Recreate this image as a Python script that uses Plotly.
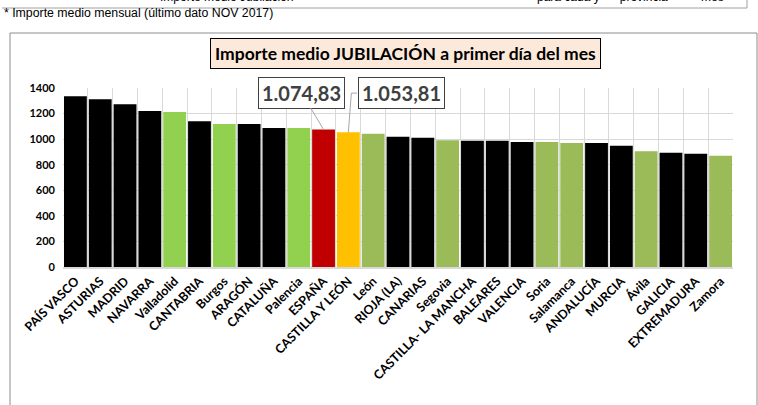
import plotly.graph_objects as go

categories = ["PAÍS VASCO", "ASTURIAS", "MADRID", "NAVARRA", "Valladolid", "CANTABRIA", "Burgos",
              "ARAGÓN", "CATALUÑA", "Palencia", "ESPAÑA", "CASTILLA Y LEÓN", "León", "RIOJA (LA)",
              "CANARIAS", "Segovia", "CASTILLA- LA MANCHA", "BALEARES", "VALENCIA", "Soria",
              "Salamanca", "ANDALUCÍA", "MURCIA", "Ávila", "GALICIA", "EXTREMADURA", "Zamora"]
values = [1335, 1312, 1273, 1221, 1213, 1140, 1119, 1119, 1088, 1088, 1074.83, 1053.81, 1042, 1018,
          1010, 992, 987, 987, 977, 977, 969, 969, 948, 906, 894, 886, 870]
groups = ["region", "region", "region", "region", "prov_a", "region", "prov_a", "region", "region",
          "prov_a", "spain", "cyl", "prov_b", "region", "region", "prov_b", "region", "region", "region",
          "prov_b", "prov_b", "region", "region", "prov_b", "region", "region", "prov_b"]
palette = {"region": "#000000", "prov_a": "#92D050", "prov_b": "#9BBB59",
           "spain": "#C00000", "cyl": "#FFC000"}
y_ticks = [0, 200, 400, 600, 800, 1000, 1200, 1400]
title_text = "Importe medio JUBILACIÓN a primer día del mes"
footnote = "* Importe medio mensual (último dato NOV 2017)"

W, H = 758, 405
L, R, T, B = 63, 25, 88, 138
pw, ph = W - L - R, H - T - B

def px(x):
    return (x - L) / pw

def py(y):
    return (H - B - y) / ph

fig = go.Figure(go.Bar(
    x=categories, y=values,
    marker=dict(color=[palette[g] for g in groups], line=dict(width=0)),
    hoverinfo="x+y",
))

font_main = "Lato, 'Open Sans', Arial, sans-serif"

fig.update_layout(
    width=W, height=H,
    margin=dict(l=L, r=R, t=T, b=B),
    paper_bgcolor="white", plot_bgcolor="white",
    bargap=0.08,
    showlegend=False,
    xaxis=dict(
        type="category", tickson="boundaries", showgrid=True, gridcolor="#D9D9D9", gridwidth=1,
        tickangle=-45, ticks="", showline=True, linecolor="#D9D9D9", linewidth=2,
        tickfont=dict(family=font_main, size=12.5, color="#000000", weight="bold"),
        range=[-0.5, len(categories) - 0.5], automargin=False,
    ),
    yaxis=dict(
        range=[0, 1400], tickvals=y_ticks, showgrid=True, gridcolor="#D9D9D9", gridwidth=1,
        zeroline=False, ticks="", ticklabelstandoff=7, automargin=False,
        tickfont=dict(family=font_main, size=11, color="#000000", weight="bold"),
    ),
)

shapes = []
# outer chart frame
shapes.append(dict(type="rect", xref="paper", yref="paper",
                   x0=px(10), x1=px(757), y0=py(420), y1=py(33),
                   line=dict(color="#8C8C8C", width=1), fillcolor="rgba(0,0,0,0)", layer="below"))
# clipped table box at the very top
shapes.append(dict(type="line", xref="paper", yref="paper",
                   x0=px(2), x1=px(747), y0=py(8), y1=py(8), line=dict(color="#A0A0A0", width=1)))
shapes.append(dict(type="line", xref="paper", yref="paper",
                   x0=px(747), x1=px(747), y0=py(-5), y1=py(8), line=dict(color="#A0A0A0", width=1)))
# leader line for Castilla y León label
cyl_i = categories.index("CASTILLA Y LEÓN")
shapes.append(dict(type="line", xref="x", yref="y",
                   x0=cyl_i, x1=cyl_i + 0.12, y0=values[cyl_i], y1=1360,
                   line=dict(color="#A6A6A6", width=1)))
shapes.append(dict(type="line", xref="x", yref="y",
                   x0=cyl_i + 0.12, x1=cyl_i + 0.35, y0=1360, y1=1360,
                   line=dict(color="#A6A6A6", width=1)))
fig.update_layout(shapes=shapes)

esp_i = categories.index("ESPAÑA")
label_font = dict(family="Lato, 'Open Sans', Arial, sans-serif", size=20, color="#404040", weight="bold")

def fmt(v):
    s = f"{v:,.2f}"
    return s.replace(",", "X").replace(".", ",").replace("X", ".")

annotations = [
    dict(xref="paper", yref="paper", x=px(405), y=py(53.5), text=title_text, showarrow=False,
         font=dict(family=font_main, size=17.5, color="#000000", weight="bold"),
         bgcolor="#FDE9D9", bordercolor="#000000", borderwidth=1, borderpad=4,
         xanchor="center", yanchor="middle"),
    dict(xref="paper", yref="paper", x=px(2), y=py(13), text=footnote, showarrow=False,
         font=dict(family="'Liberation Sans Narrow', 'Arial Narrow', Arial, sans-serif", size=12.3, color="#000000"),
         xanchor="left", yanchor="middle"),
    dict(xref="paper", yref="paper", x=px(226), y=py(-3), text="Importe medio Jubilación", showarrow=False,
         font=dict(family="Arial, sans-serif", size=12, color="#000000"),
         xanchor="center", yanchor="middle"),
    dict(xref="paper", yref="paper", x=px(630), y=py(-3), text="para cada y      provincia          mes", showarrow=False,
         font=dict(family="Arial, sans-serif", size=12, color="#000000"),
         xanchor="center", yanchor="middle"),
    dict(x=categories[esp_i], y=values[esp_i], xref="x", yref="y", text=fmt(values[esp_i]),
         showarrow=True, arrowhead=0, arrowwidth=1, arrowcolor="#A6A6A6", ax=-22, ay=-37,
         font=label_font, bgcolor="white", bordercolor="#404040", borderwidth=1, borderpad=3),
    dict(x=categories[cyl_i], y=values[cyl_i], xref="x", yref="y", text=fmt(values[cyl_i]),
         showarrow=True, arrowhead=0, arrowwidth=0.1, arrowcolor="rgba(0,0,0,0)", ax=53, ay=-39,
         font=label_font, bgcolor="white", bordercolor="#404040", borderwidth=1, borderpad=3),
]
fig.update_layout(annotations=annotations)

fig.write_html("out.html", config={"displayModeBar": False},
               post_script="document.body.style.margin='0px';")
